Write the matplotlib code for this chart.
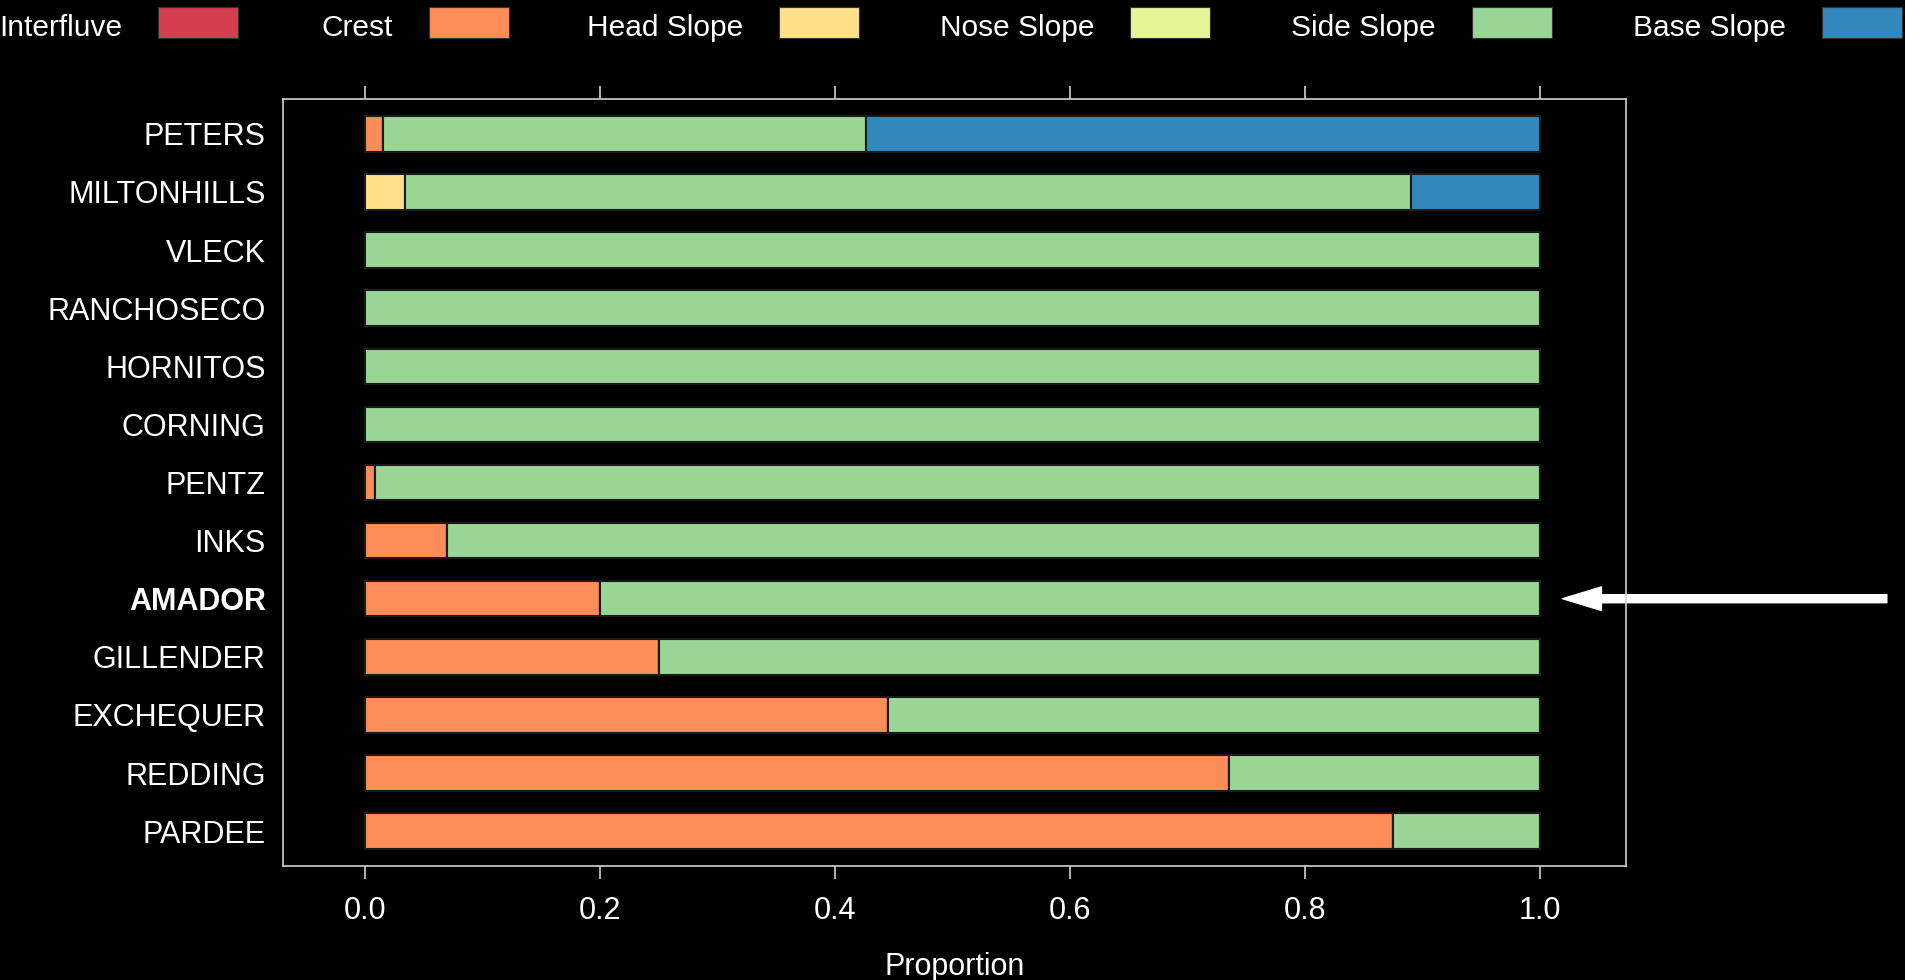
import numpy as np
import matplotlib.pyplot as plt
from matplotlib.patches import Rectangle, FancyArrowPatch

plt.rcParams['font.family'] = ['Liberation Sans', 'DejaVu Sans']

# series, top to bottom as shown
soils = ['PETERS', 'MILTONHILLS', 'VLECK', 'RANCHOSECO', 'HORNITOS', 'CORNING',
         'PENTZ', 'INKS', 'AMADOR', 'GILLENDER', 'EXCHEQUER', 'REDDING', 'PARDEE']
positions = ['Interfluve', 'Crest', 'Head Slope', 'Nose Slope', 'Side Slope', 'Base Slope']
colors = ['#D53E4F', '#FC8D59', '#FEE08B', '#E6F598', '#99D594', '#3288BD']

interfluve = [0, 0, 0, 0, 0, 0, 0, 0, 0, 0, 0, 0, 0]
crest = [0.015, 0, 0, 0, 0, 0, 0.008, 0.07, 0.2, 0.25, 0.445, 0.735, 0.875]
head_slope = [0, 0.034, 0, 0, 0, 0, 0, 0, 0, 0, 0, 0, 0]
nose_slope = [0, 0, 0, 0, 0, 0, 0, 0, 0, 0, 0, 0, 0]
side_slope = [0.411, 0.856, 1, 1, 1, 1, 0.992, 0.93, 0.8, 0.75, 0.555, 0.265, 0.125]
base_slope = [0.574, 0.11, 0, 0, 0, 0, 0, 0, 0, 0, 0, 0, 0]
highlight = 'AMADOR'

FS = 22
W, H = 1905, 980
fig = plt.figure(figsize=(W / 100, H / 100), dpi=100, facecolor='black')
ax = fig.add_axes([283 / W, 1 - 866 / H, (1626 - 283) / W, (866 - 99) / H])
ax.set_facecolor('black')

y = np.arange(len(soils))[::-1] + 1
series = [interfluve, crest, head_slope, nose_slope, side_slope, base_slope]
left = np.zeros(len(soils))
for vals, c in zip(series, colors):
    vals = np.array(vals, dtype=float)
    ax.barh(y, vals, left=left, height=0.61, color=c, edgecolor='#1a1a1a', linewidth=1.5)
    left += vals

ax.set_xlim(-0.07, 1.073)
ax.set_ylim(0.4, len(soils) + 0.6)
ax.set_yticks(y)
ax.set_yticklabels(soils)
for lab in ax.get_yticklabels():
    if lab.get_text() == highlight:
        lab.set_fontweight('bold')
ax.tick_params(axis='y', length=0, pad=12.5, labelsize=FS, labelcolor='white')
ax.set_xticks([0, 0.2, 0.4, 0.6, 0.8, 1.0])
ax.set_xticklabels(['0.0', '0.2', '0.4', '0.6', '0.8', '1.0'])
ax.tick_params(axis='x', direction='out', length=9.5, width=1.2, color='#d0d0d0',
               top=True, labeltop=False, labelsize=FS, labelcolor='white', pad=12)
for s in ax.spines.values():
    s.set_color('#d0d0d0')
    s.set_linewidth(1.2)
ax.set_xlabel('Proportion', color='white', fontsize=FS, labelpad=19)

# legend row across the top
box_lefts = [158, 429, 779, 1130, 1472, 1822]
for name, c, bx in zip(positions, colors, box_lefts):
    fig.patches.append(Rectangle((bx / W, 1 - 38 / H), 80 / W, 31 / H,
                                 transform=fig.transFigure, facecolor=c,
                                 edgecolor='#333333', linewidth=0.8))
    fig.text((bx - 36) / W, 1 - 36 / H, name, color='white', fontsize=21.5,
             ha='right', va='baseline')

# arrow pointing at the highlighted series
yh = y[soils.index(highlight)]
arr = FancyArrowPatch((1.295, yh), (1.019, yh), transform=ax.transData,
                      arrowstyle='simple,head_length=28,head_width=17,tail_width=5.8',
                      mutation_scale=1, color='white', shrinkA=0, shrinkB=0,
                      clip_on=False)
ax.add_patch(arr)

fig.savefig('out.png', dpi=100, facecolor='black')
